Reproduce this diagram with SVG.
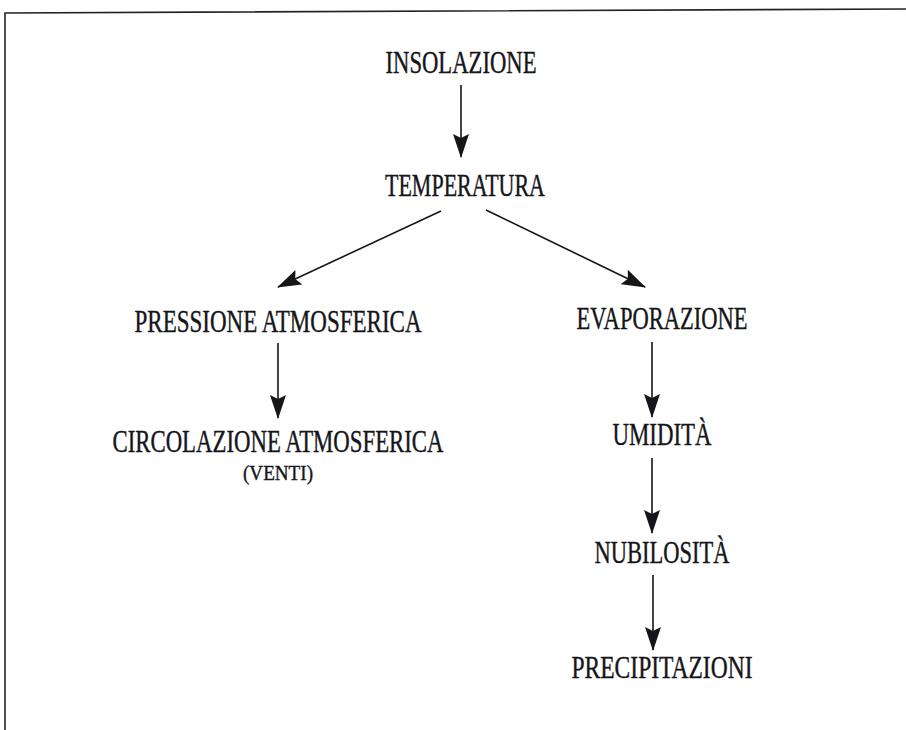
<svg xmlns="http://www.w3.org/2000/svg" width="906" height="730" viewBox="0 0 906 730">
<defs>
<marker id="ah" markerUnits="userSpaceOnUse" markerWidth="24" markerHeight="16" viewBox="0 0 24 16" refX="23" refY="8" orient="auto">
<path d="M0,0 L24,8 L0,16 L4,8 Z" fill="#15151a"/>
</marker>
<style>
.t{font-family:"Liberation Serif","Times New Roman",serif;font-size:31px;fill:#15151a;stroke:#15151a;stroke-width:0.4;text-anchor:middle}
.s{font-size:22px}
.c line{stroke:#15151a;stroke-width:1.6;marker-end:url(#ah)}
.f{stroke:#222;stroke-width:1.6;fill:none}
</style>
</defs>
<rect width="906" height="730" fill="#fff"/>
<path class="f" d="M5,730 L5,13 L906,9"/>
<g class="c">
<line x1="461" y1="85" x2="461" y2="157"/>
<line x1="441" y1="211" x2="278" y2="287"/>
<line x1="486" y1="210" x2="645" y2="287"/>
<line x1="278" y1="343" x2="278" y2="418"/>
<line x1="652" y1="342" x2="652" y2="417"/>
<line x1="652" y1="458" x2="652" y2="533"/>
<line x1="653" y1="575" x2="653" y2="650"/>
</g>
<g id="n1"><text class="t" x="461" y="73" textLength="151" lengthAdjust="spacingAndGlyphs">INSOLAZIONE</text></g>
<g id="n2"><text class="t" x="465" y="196" textLength="160" lengthAdjust="spacingAndGlyphs">TEMPERATURA</text></g>
<g id="n3"><text class="t" x="278" y="332" textLength="287" lengthAdjust="spacingAndGlyphs">PRESSIONE ATMOSFERICA</text></g>
<g id="n4"><text class="t" x="278" y="452" textLength="331" lengthAdjust="spacingAndGlyphs">CIRCOLAZIONE ATMOSFERICA</text>
<text class="t s" x="278" y="480" textLength="70" lengthAdjust="spacingAndGlyphs">(VENTI)</text></g>
<g id="n5"><text class="t" x="662" y="329" textLength="171" lengthAdjust="spacingAndGlyphs">EVAPORAZIONE</text></g>
<g id="n6"><text class="t" x="662" y="445" textLength="99" lengthAdjust="spacingAndGlyphs">UMIDITÀ</text></g>
<g id="n7"><text class="t" x="662" y="563" textLength="135" lengthAdjust="spacingAndGlyphs">NUBILOSITÀ</text></g>
<g id="n8"><text class="t" x="662" y="678" textLength="181" lengthAdjust="spacingAndGlyphs">PRECIPITAZIONI</text></g>
</svg>
